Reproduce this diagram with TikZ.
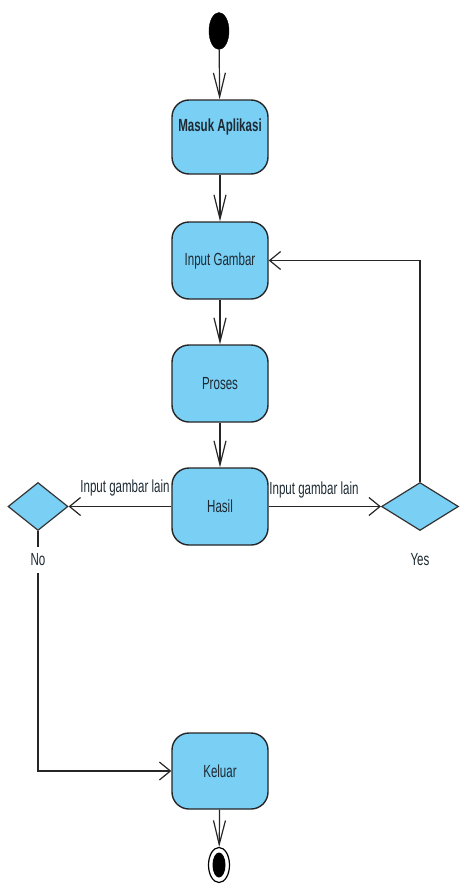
\documentclass[tikz,border=0pt]{standalone}
\usepackage{fontspec}
\setmainfont[FakeStretch=0.66]{Liberation Sans}
\usetikzlibrary{arrows.meta,shapes.geometric}
\definecolor{actfill}{HTML}{79CFF4}
\definecolor{txt}{HTML}{1E2A33}
\begin{document}
\begin{tikzpicture}[x=1pt,y=-1pt,
  every node/.style={font=\fontsize{17.5}{20}\selectfont, text=txt},
  act/.style={draw=black!85, line width=1.4pt, fill=actfill, rounded corners=17pt,
    minimum width=96pt, inner sep=0pt},
  dec/.style={diamond, draw=black!80, line width=1.2pt, fill=actfill, inner sep=0pt},
  flow/.style={line width=1.2pt, draw=black!85},
  varr/.style={flow, -{Straight Barb[length=24pt,width=12pt,line width=1.2pt]}},
  harr/.style={flow, -{Straight Barb[length=11pt,width=18pt,line width=1.2pt]}},
  lbl/.style={font=\fontsize{17.5}{20}\selectfont, text=txt}]
\useasboundingbox (0,0) rectangle (459,886);
% start
\node[draw=black, fill=black, ellipse, minimum width=20pt, minimum height=37pt, inner sep=0pt] (start) at (219,31) {};
% activities
\node[act, minimum height=74pt] (masuk) at (220,137) {};
\node[font=\bfseries\fontsize{17.5}{20}\selectfont] (masukt) at (220,127) {Masuk Aplikasi};
\node[act, minimum height=77pt] (input) at (220,260.5) {Input Gambar};
\node[act, minimum height=77pt] (proses) at (220,383.5) {Proses};
\node[act, minimum height=77pt] (hasil) at (220,506.5) {Hasil};
\node[act, minimum height=76pt] (keluar) at (220,771) {Keluar};
% decisions
\node[dec, minimum width=60pt, minimum height=48pt] (dl) at (38,506.5) {};
\node[dec, minimum width=77pt, minimum height=48pt] (dr) at (420,506.5) {};
% end
\node[draw=black, line width=1.2pt, fill=white, ellipse, minimum width=21pt, minimum height=35pt, inner sep=0pt] (fin) at (219,865) {};
\node[fill=black, ellipse, minimum width=13pt, minimum height=25pt, inner sep=0pt] (fininner) at (219,865) {};
% flows
\draw[varr] (start) -- (masuk);
\draw[varr] (masuk) -- (input);
\draw[varr] (input) -- (proses);
\draw[varr] (proses) -- (hasil);
\draw[varr] (keluar) -- (fin);
\draw[harr] (hasil.west) -- (dl.east);
\draw[harr] (hasil.east) -- (dr.west);
\draw[harr] (dr.north) |- (input.east);
\draw[harr] (dl.south) |- (keluar.west);
\node[lbl] (lbll) at (125,488) {Input gambar lain};
\node[lbl] (lblr) at (314,490) {Input gambar lain};
\node[lbl, fill=white, inner xsep=2pt, inner ysep=7pt] (no) at (38,560) {No};
\node[lbl] (yes) at (420,560) {Yes};
\end{tikzpicture}
\end{document}
